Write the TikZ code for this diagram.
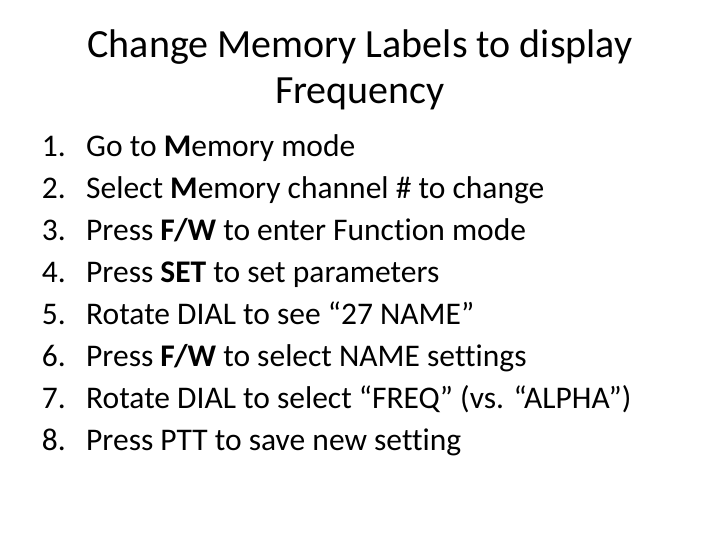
\documentclass[tikz,border=0pt]{standalone}
\usepackage{fontspec}
\setmainfont[Ligatures=NoCommon]{Carlito}
\begin{document}
\begin{tikzpicture}[x=1pt,y=-1pt,
  ttl/.style={anchor=base,inner sep=0pt,font=\fontsize{40}{48}\selectfont},
  num/.style={anchor=base east,inner sep=0pt,font=\fontsize{31.5}{36}\selectfont},
  itm/.style={anchor=base west,inner sep=0pt,font=\fontsize{31.5}{36}\selectfont}]
\useasboundingbox (0,0) rectangle (720,540);
\node[ttl] (t1) at (360,58) {Change Memory Labels to display};
\node[ttl] (t2) at (360,104) {Frequency};
\foreach \i/\t [count=\k] in {
 1/{Go to \textbf{M}emory mode},
 2/{Select \textbf{M}emory channel \# to change},
 3/{Press \textbf{F/W} to enter Function mode},
 4/{Press \textbf{SET} to set parameters},
 5/{Rotate DIAL to see “27 NAME”},
 6/{Press \textbf{F/W} to select NAME settings},
 7/{Rotate DIAL to select “FREQ” (vs. “ALPHA”)},
 8/{Press PTT to save new setting}}{
  \node[num] (n\i) at (66,{157+(\k-1)*41.9}) {\i.};
  \node[itm] (i\i) at (86,{157+(\k-1)*41.9}) {\t};
}
\end{tikzpicture}
\end{document}
